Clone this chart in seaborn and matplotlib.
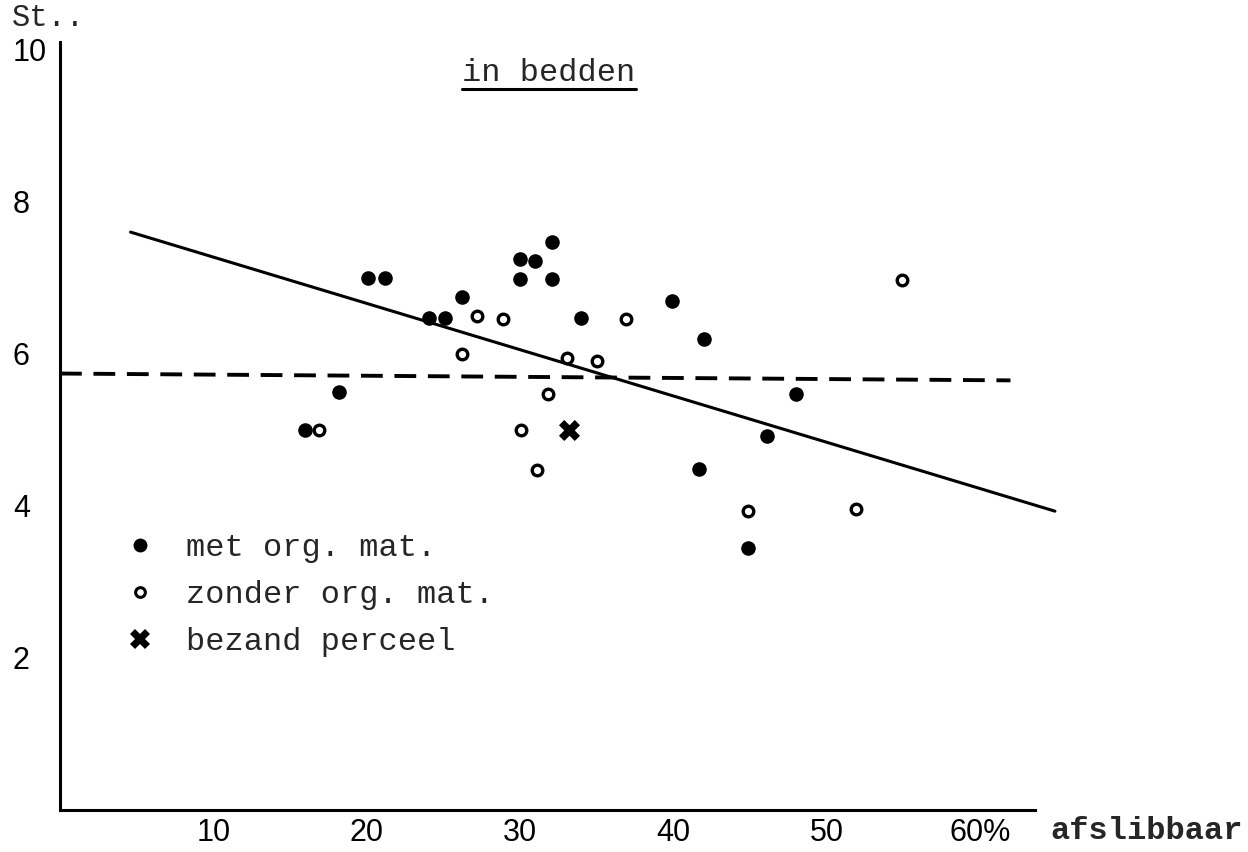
import matplotlib
matplotlib.use("Agg")
import matplotlib.pyplot as plt
import seaborn as sns
from matplotlib.lines import Line2D

# ---------------- data ----------------
met_x = [16.0, 18.2, 20.1, 21.2, 24.1, 25.1, 26.2, 30.0, 31.0, 32.1, 30.0, 32.1, 34.0, 39.9, 42.0, 41.7, 46.1, 44.9, 48.0]
met_y = [5.0, 5.5, 7.0, 7.0, 6.47, 6.47, 6.74, 7.25, 7.22, 7.47, 6.98, 6.98, 6.47, 6.7, 6.2, 4.48, 4.92, 3.45, 5.47]

zonder_x = [16.9, 26.2, 27.2, 28.9, 30.1, 31.1, 31.8, 33.1, 35.0, 36.9, 44.9, 51.9, 54.9]
zonder_y = [5.0, 6.0, 6.5, 6.46, 5.0, 4.47, 5.47, 5.95, 5.91, 6.46, 3.93, 3.96, 6.97]

bezand_x = [33.2]
bezand_y = [5.0]

trend_x = [4.6, 64.9]
trend_y = [7.6, 3.93]

mean_x = [0.0, 62.0]
mean_y = [5.74, 5.65]

x_ticks = [10, 20, 30, 40, 50, 60]
x_ticklabels = ["10", "20", "30", "40", "50", "60%"]
y_ticks = [2, 4, 6, 8, 10]
y_ticklabels = ["2", "4", "6", "8", "10"]

legend_labels = ["met org. mat.", "zonder org. mat.", "bezand perceel"]
title_text = "in bedden"
xlabel_text = "afslibbaar"
ylabel_text = "St.."

# ---------------- style ----------------
sns.set_theme(style="white")
plt.rcParams["font.family"] = ["Liberation Mono", "DejaVu Sans"]
mono = ["Liberation Mono", "DejaVu Sans"]
tickfont = ["Liberation Sans", "DejaVu Sans"]

W, H = 1248, 852
fig = plt.figure(figsize=(W / 100, H / 100), dpi=100)
fig.patch.set_facecolor("white")
ax_left, ax_right, ax_top, ax_bottom = 60, 1035, 42, 810
ax = fig.add_axes([ax_left / W, (H - ax_bottom) / H, (ax_right - ax_left) / W, (ax_bottom - ax_top) / H])
ax.set_facecolor("white")

# lines
sns.lineplot(x=trend_x, y=trend_y, ax=ax, color="black", linewidth=2.2, clip_on=False, legend=False)
sns.lineplot(x=mean_x, y=mean_y, ax=ax, color="black", linewidth=2.8, linestyle=(0, (5.6, 3.0)),
             clip_on=False, legend=False)

# points
sns.scatterplot(x=met_x, y=met_y, ax=ax, color="black", marker="o", s=110, linewidth=0, zorder=5)
sns.scatterplot(x=zonder_x, y=zonder_y, ax=ax, marker="o", s=58, facecolor="white",
                edgecolor="black", linewidth=2.4, zorder=5)
sns.scatterplot(x=bezand_x, y=bezand_y, ax=ax, color="black", marker="X", s=230, linewidth=0, zorder=6)

ax.set_xlim(0, 63.6)
ax.set_ylim(0, 10.1)

for side in ["top", "right"]:
    ax.spines[side].set_visible(False)
for side in ["left", "bottom"]:
    ax.spines[side].set_linewidth(2.2)
    ax.spines[side].set_color("black")

ax.set_xticks(x_ticks)
ax.set_xticklabels(x_ticklabels, family=tickfont, fontsize=22)
ax.set_yticks(y_ticks)
ax.set_yticklabels(y_ticklabels, family=tickfont, fontsize=22, ha="left")
ax.tick_params(axis="x", direction="in", length=6, width=2, pad=6, colors="black")
ax.tick_params(axis="y", direction="in", length=6, width=2, pad=34, colors="black")
ax.grid(False)

# legend
handles = [
    Line2D([], [], marker="o", linestyle="none", color="black", markersize=10, markeredgewidth=0),
    Line2D([], [], marker="o", linestyle="none", markerfacecolor="white", markeredgecolor="black",
           markersize=7, markeredgewidth=2.2),
    Line2D([], [], marker="X", linestyle="none", color="black", markersize=14, markeredgewidth=0),
]
leg = ax.legend(handles, legend_labels, loc="upper left", bbox_to_anchor=(124 / W, (H - 533) / H),
                bbox_transform=fig.transFigure, frameon=False, prop={"family": mono, "size": 23},
                handlelength=1.0, handletextpad=0.95, labelspacing=0.53, borderpad=0, borderaxespad=0)

# title (underlined)
t = fig.text(549 / W, 1 - 73 / H, title_text, ha="center", va="center", family=mono, fontsize=23)
fig.canvas.draw()
bb = t.get_window_extent(renderer=fig.canvas.get_renderer())
uy = 1 - 89 / H
fig.add_artist(Line2D([bb.x0 / W, bb.x1 / W], [uy, uy], color="black", linewidth=2.2,
                      transform=fig.transFigure))

# axis labels
fig.text(1050 / W, 1 - 831 / H, xlabel_text, ha="left", va="center", family=mono, fontsize=23,
         fontweight="bold")
fig.text(12 / W, 1 - 18 / H, ylabel_text, ha="left", va="center", family=mono, fontsize=22)

fig.savefig("out.png", dpi=100, facecolor="white")
